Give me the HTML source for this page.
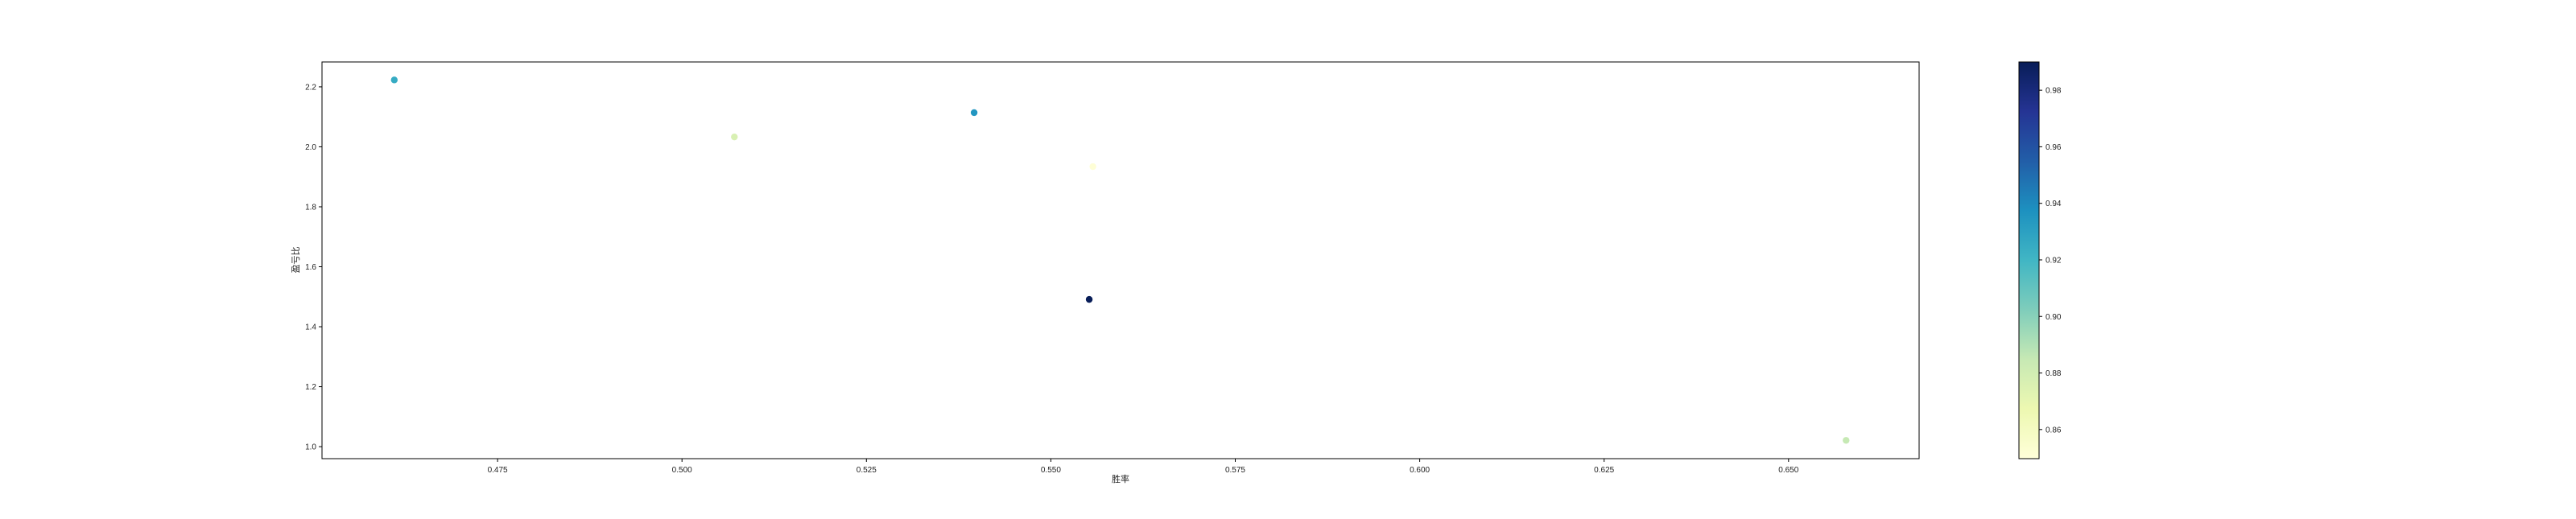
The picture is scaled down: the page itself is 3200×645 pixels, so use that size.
<!DOCTYPE html>
<html><head><meta charset="utf-8"><style>
html,body{margin:0;padding:0;background:#fff}
svg text{font-family:"Liberation Sans","Noto Sans CJK SC",sans-serif;fill:#222}
</style></head><body>
<svg id="chart" width="3200" height="640" xmlns="http://www.w3.org/2000/svg">
<defs>
<linearGradient id="cmap" x1="0" y1="1" x2="0" y2="0">
<stop offset="0" stop-color="#ffffd9"/><stop offset="0.125" stop-color="#edf8b1"/>
<stop offset="0.25" stop-color="#c7e9b4"/><stop offset="0.375" stop-color="#7fcdbb"/>
<stop offset="0.5" stop-color="#41b6c4"/><stop offset="0.625" stop-color="#1d91c0"/>
<stop offset="0.75" stop-color="#225ea8"/><stop offset="0.875" stop-color="#253494"/>
<stop offset="1" stop-color="#081d58"/>
</linearGradient>
</defs>
<g id="plot"></g>
<text x="1392" y="599" font-size="11" text-anchor="middle">胜率</text>
<text x="371" y="323" font-size="11" text-anchor="middle" transform="rotate(-90 371 323)">盈亏比</text>
<rect x="2508" y="77" width="25" height="493" fill="url(#cmap)" stroke="#000" stroke-width="1"/>
<g id="cbar"></g>
</svg>
<script>
const winRate = [0.4610, 0.5071, 0.5396, 0.5557, 0.5552, 0.6578];
const profitRatio = [2.223, 2.033, 2.114, 1.934, 1.491, 1.021];
const colorVal = [0.925, 0.877, 0.935, 0.851, 0.99, 0.885];
const xTicks = [0.475, 0.500, 0.525, 0.550, 0.575, 0.600, 0.625, 0.650];
const xTickLabels = ["0.475","0.500","0.525","0.550","0.575","0.600","0.625","0.650"];
const yTicks = [1.0, 1.2, 1.4, 1.6, 1.8, 2.0, 2.2];
const yTickLabels = ["1.0","1.2","1.4","1.6","1.8","2.0","2.2"];
const cTicks = [0.86, 0.88, 0.90, 0.92, 0.94, 0.96, 0.98];
const cTickLabels = ["0.86","0.88","0.90","0.92","0.94","0.96","0.98"];

const L=400,R=2384,T=77,B=570;
const xMin=0.4512,xMax=0.6677,yMin=0.960,yMax=2.283,cMin=0.8497,cMax=0.990;
const xs=v=>L+(v-xMin)/(xMax-xMin)*(R-L);
const ys=v=>B-(v-yMin)/(yMax-yMin)*(B-T);
const cs=v=>B-(v-cMin)/(cMax-cMin)*(B-T);
const stops=["#ffffd9","#edf8b1","#c7e9b4","#7fcdbb","#41b6c4","#1d91c0","#225ea8","#253494","#081d58"];
function cmap(v){let t=Math.max(0,Math.min(1,(v-cMin)/(cMax-cMin)))*8;let i=Math.min(7,Math.floor(t)),f=t-i;
const a=stops[i],b=stops[i+1];const p=(h,k)=>parseInt(h.substr(1+2*k,2),16);
let c=[0,1,2].map(k=>Math.round(p(a,k)+(p(b,k)-p(a,k))*f));return `rgb(${c.join(',')})`;}
const NS="http://www.w3.org/2000/svg";
function mk(tag,attrs,parent,txt){const e=document.createElementNS(NS,tag);for(const k in attrs)e.setAttribute(k,attrs[k]);if(txt!=null)e.textContent=txt;parent.appendChild(e);return e;}
const plot=document.getElementById('plot');
xTicks.forEach((v,i)=>{const x=xs(v);
const t=mk('line',{x1:x,x2:x,y1:B,y2:B+4,stroke:'#000'},plot);


const l=mk('text',{x:x,y:B+17,'font-size':10,'text-anchor':'middle'},plot,xTickLabels[i]);

});
yTicks.forEach((v,i)=>{const y=ys(v);
const t=mk('line',{x1:L-4,x2:L,y1:y,y2:y,stroke:'#000'},plot);


const l=mk('text',{x:L-7,y:y+3.5,'font-size':10,'text-anchor':'end'},plot,yTickLabels[i]);

});
winRate.forEach((v,i)=>{
const c=mk('circle',{cx:xs(v),cy:ys(profitRatio[i]),r:4.2,fill:cmap(colorVal[i])},plot);

});
const fr=mk('rect',{x:L,y:T,width:R-L,height:B-T,fill:'none',stroke:'#000','stroke-width':1},plot);


const cb=document.getElementById('cbar');
cTicks.forEach((v,i)=>{const y=cs(v);
const t=mk('line',{x1:2533,x2:2537,y1:y,y2:y,stroke:'#000'},cb);


const l=mk('text',{x:2541,y:y+3.5,'font-size':10},cb,cTickLabels[i]);

});
</script>
</body></html>
